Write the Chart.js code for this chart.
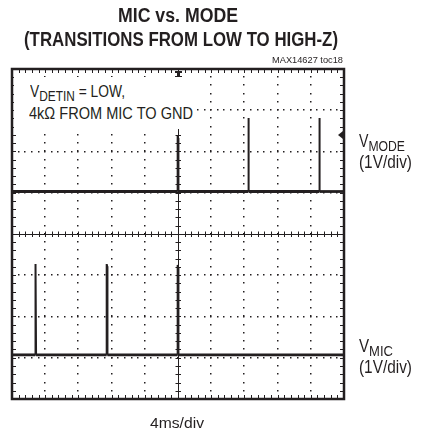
<!DOCTYPE html>
<html>
<head>
<meta charset="utf-8">
<script src="https://cdn.jsdelivr.net/npm/chart.js@4.4.0/dist/chart.umd.min.js"></script>
<style>
html, body { margin: 0; padding: 0; background: #fff; }
#wrap { position: relative; width: 425px; height: 433px; overflow: hidden; }
#scope { position: absolute; left: 0; top: 0; }
.t { position: absolute; white-space: nowrap; line-height: 1; color: #231f20;
     font-family: "Liberation Sans", Arial, sans-serif; transform-origin: 0 0; }
.b { font-weight: bold; }
.t sub { font-size: 0.86em; vertical-align: -0.26em; line-height: 0; }
#note { position: absolute; left: 14px; top: 77px; width: 182px; height: 52px; background: #fff; }
</style>
</head>
<body>
<div id="wrap">
  <canvas id="scope" width="425" height="433"></canvas>
  <div id="note"></div>
  <div class="t b" data-x="118" data-cap="8" data-w="120" data-f="20">MIC vs. MODE</div>
  <div class="t b" data-x="24" data-cap="32" data-w="314" data-f="20.5">(TRANSITIONS FROM LOW TO HIGH-Z)</div>
  <div class="t" data-x="272" data-cap="56" data-w="71" data-f="9.8">MAX14627 toc18</div>
  <div class="t" data-x="30" data-cap="85" data-w="95" data-f="16.3">V<sub>DETIN</sub> = LOW,</div>
  <div class="t" data-x="29" data-cap="107" data-w="164" data-f="16.3">4k&Omega; FROM MIC TO GND</div>
  <div class="t" data-x="359" data-cap="135" data-w="46" data-f="17.7">V<sub>MODE</sub></div>
  <div class="t" data-x="359" data-cap="156" data-w="53" data-f="17.7">(1V/div)</div>
  <div class="t" data-x="359" data-cap="340.5" data-w="34" data-f="17.7">V<sub>MIC</sub></div>
  <div class="t" data-x="359" data-cap="361" data-w="53" data-f="17.7">(1V/div)</div>
  <div class="t" data-x="150" data-cap="417" data-w="54" data-f="15">4ms/div</div>
</div>
<script>
'use strict';
// time axis in ms (4ms/div, 10 div), vertical axis in divisions (1V/div, 8 div)
let timeTicks = [0, 4, 8, 12, 16, 20, 24, 28, 32, 36, 40];
let divTicks = [-4, -3, -2, -1, 0, 1, 2, 3, 4];

// VMODE trace: baseline and narrow pulses
let modeBase = 1.03;
let modePulseTimes = [19.95, 28.45, 37.0];
let modePulseTops = [2.38, 2.81, 2.81];

// VMIC trace
let micBase = -2.93;
let micPulseTimes = [2.8, 11.4, 19.95];
let micPulseTops = [-0.73, -0.73, -0.75];

let triggerTime = 20;
let triggerLevel = 2.4;

// condensed lettering: place each label by its cap top and squeeze it to the width in the plot
let labels = document.querySelectorAll('.t');
for (let i = 0; i < labels.length; i++) {
    let el = labels[i];
    let f = parseFloat(el.dataset.f);
    el.style.fontSize = f + 'px';
    el.style.left = el.dataset.x + 'px';
    el.style.top = (parseFloat(el.dataset.cap) - 0.13 * f) + 'px';
    let natural = el.getBoundingClientRect().width;
    el.style.transform = 'scaleX(' + (parseFloat(el.dataset.w) / natural) + ')';
}

function tracePoints(base, times, tops) {
    let pts = [{x: 0, y: base}];
    for (let i = 0; i < times.length; i++) {
        pts.push({x: times[i], y: base});
        pts.push({x: times[i] + 0.01, y: tops[i]});
        pts.push({x: times[i] + 0.06, y: tops[i] - 0.05});
        pts.push({x: times[i] + 0.1, y: base});
    }
    pts.push({x: 40, y: base});
    return pts;
}

let ink = '#231f20';

// scope graticule: dotted grid, centre cross with ticks, frame ticks, markers
const graticule = {
    id: 'graticule',
    beforeDatasetsDraw(chart) {
        let ctx = chart.ctx;
        let a = chart.chartArea;
        let xs = chart.scales.x;
        let ys = chart.scales.y;
        let x0 = timeTicks[0], x1 = timeTicks[timeTicks.length - 1];
        let y0 = divTicks[0], y1 = divTicks[divTicks.length - 1];
        let xMinor = (timeTicks[1] - timeTicks[0]) / 5;
        let yMinor = (divTicks[1] - divTicks[0]) / 5;
        let cx = xs.getPixelForValue(20);
        let cy = ys.getPixelForValue(0);
        ctx.save();
        ctx.fillStyle = ink;
        // dotted vertical lines
        for (let i = 1; i < timeTicks.length - 1; i++) {
            if (timeTicks[i] === 20) continue;
            let px = xs.getPixelForValue(timeTicks[i]);
            for (let v = y0 + yMinor; v < y1 - 0.01; v += yMinor) {
                let py = ys.getPixelForValue(v);
                ctx.fillRect(Math.round(px) - 1, Math.round(py) - 1, 1.5, 1.5);
            }
        }
        // dotted horizontal lines
        for (let j = 1; j < divTicks.length - 1; j++) {
            if (divTicks[j] === 0) continue;
            let py = ys.getPixelForValue(divTicks[j]);
            for (let t = x0 + xMinor; t < x1 - 0.01; t += xMinor) {
                let px = xs.getPixelForValue(t);
                ctx.fillRect(Math.round(px) - 1, Math.round(py) - 1, 1.5, 1.5);
            }
        }
        // centre cross
        ctx.strokeStyle = ink;
        ctx.lineWidth = 1;
        ctx.beginPath();
        ctx.moveTo(a.left, Math.round(cy) + 0.5);
        ctx.lineTo(a.right, Math.round(cy) + 0.5);
        ctx.moveTo(Math.round(cx) + 0.5, a.top);
        ctx.lineTo(Math.round(cx) + 0.5, a.bottom);
        for (let t = x0 + xMinor; t < x1 - 0.01; t += xMinor) {
            let px = Math.round(xs.getPixelForValue(t)) + 0.5;
            ctx.moveTo(px, cy - 2.5); ctx.lineTo(px, cy + 3);
            ctx.moveTo(px, a.bottom); ctx.lineTo(px, a.bottom - 4);
            ctx.moveTo(px, a.top); ctx.lineTo(px, a.top + 4);
        }
        for (let v = y0 + yMinor; v < y1 - 0.01; v += yMinor) {
            let py = Math.round(ys.getPixelForValue(v)) + 0.5;
            ctx.moveTo(cx - 2.5, py); ctx.lineTo(cx + 3, py);
            ctx.moveTo(a.left, py); ctx.lineTo(a.left + 4, py);
            ctx.moveTo(a.right, py); ctx.lineTo(a.right - 4, py);
        }
        ctx.stroke();
        // frame
        ctx.lineWidth = 2.5;
        ctx.strokeRect(a.left, a.top, a.right - a.left, a.bottom - a.top);
        // trigger position marker (top centre)
        let tx = xs.getPixelForValue(triggerTime);
        ctx.fillRect(tx - 3, a.top + 2, 7, 2);
        ctx.fillRect(tx - 1, a.top + 4, 3, 3);
        ctx.fillRect(tx - 3, a.top + 7, 7, 2);
        // trigger level marker (right edge)
        let ty = ys.getPixelForValue(triggerLevel);
        ctx.beginPath();
        ctx.moveTo(a.right - 6, ty);
        ctx.lineTo(a.right - 1, ty - 4);
        ctx.lineTo(a.right - 1, ty + 4);
        ctx.closePath();
        ctx.fill();
        ctx.restore();
    }
};

let modeData = tracePoints(modeBase, modePulseTimes, modePulseTops);
let micData = tracePoints(micBase, micPulseTimes, micPulseTops);

// noisy baselines read thicker than the pulse edges
let traceSegment = {
    borderWidth: ctx => (ctx.p0.parsed.y === ctx.p1.parsed.y ? 2.8 : 2)
};

new Chart(document.getElementById('scope'), {
    type: 'line',
    data: {
        datasets: [
            {label: 'VMODE', data: modeData, borderColor: ink, borderWidth: 2.2, pointRadius: 0, tension: 0, segment: traceSegment},
            {label: 'VMIC', data: micData, borderColor: ink, borderWidth: 2.2, pointRadius: 0, tension: 0, segment: traceSegment}
        ]
    },
    options: {
        responsive: false,
        animation: false,
        devicePixelRatio: 1,
        layout: {padding: {left: 12, right: 81, top: 69, bottom: 34}},
        plugins: {legend: {display: false}, tooltip: {enabled: false}, title: {display: false}},
        scales: {
            x: {type: 'linear', min: 0, max: 40, display: false},
            y: {type: 'linear', min: -4, max: 4, display: false}
        }
    },
    plugins: [graticule]
});
</script>
</body>
</html>
